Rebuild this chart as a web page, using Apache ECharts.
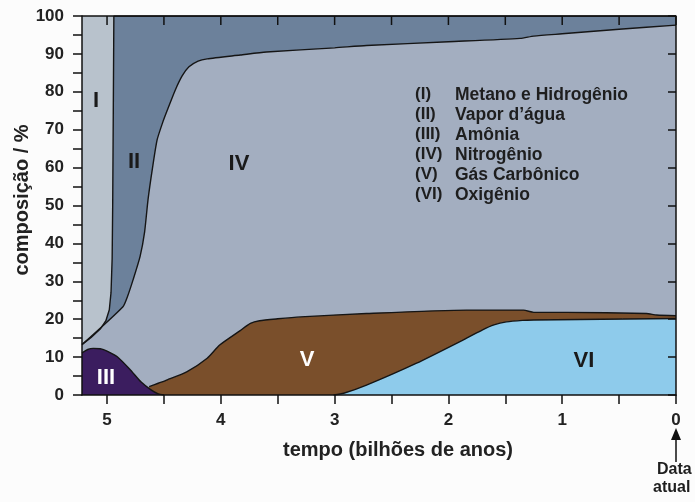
<!DOCTYPE html>
<html>
<head>
<meta charset="utf-8">
<script src="https://cdn.jsdelivr.net/npm/echarts@6/dist/echarts.min.js"></script>
<style>
  html, body { margin: 0; padding: 0; background: #fcfcfc; }
  #main { width: 695px; height: 502px; }
</style>
</head>
<body>
<div id="main"></div>
<script>
// topo (valor acumulado) de cada camada, [tempo, %]
var topoI = [[5.22, 100], [0, 100]];
var topoII = [[5.22, 13.3], [5.14, 15.2], [5.06, 17.4], [5.01, 19.6], [4.98, 22.5], [4.965, 27], [4.955, 36], [4.95, 51], [4.945, 75], [4.94, 100], [0, 100]];
var topoIV = [[5.22, 13.3], [4.86, 23.3], [4.82, 26], [4.77, 30.5], [4.71, 36.5], [4.67, 43], [4.64, 51.5], [4.60, 60], [4.56, 67.3], [4.51, 72], [4.47, 75.2],
  [4.40, 80.5], [4.34, 84.2], [4.28, 86.6], [4.20, 88.1], [4.12, 88.7], [3.83, 89.7], [3.6, 90.5], [3.0, 91.6], [2.72, 92.2], [2.0, 93.2],
  [1.37, 94.1], [1.25, 94.7], [1.0, 95.3], [0.5, 96.5], [0, 97.6]];
var topoV = [[4.63, 2.2], [4.55, 3.1], [4.47, 4.0], [4.30, 6.1], [4.12, 9.7], [4.01, 13.2], [3.83, 17], [3.74, 18.9], [3.66, 19.6],
  [3.50, 20.1], [3.30, 20.6], [2.72, 21.5], [1.84, 22.4], [1.34, 22.4], [1.25, 21.8], [0.96, 21.8], [0.26, 21.5], [0.17, 21.1], [0, 20.9]];
var topoVI = [[3.01, 0], [2.92, 0.45], [2.72, 2.6], [2.28, 8.4], [1.84, 15.0], [1.70, 17.2], [1.60, 18.5], [1.49, 19.3], [1.35, 19.7], [1.25, 19.8], [0, 20.2]];
var topoIII = [[5.22, 11.1], [5.17, 12.0], [5.12, 12.3], [5.06, 12.2], [5.00, 11.6], [4.91, 10.1], [4.80, 6.8], [4.70, 3.4], [4.62, 1.5], [4.55, 0.3], [4.5, 0]];

var ticksX = [0, 0.5, 1, 1.5, 2, 2.5, 3, 3.5, 4, 4.5, 5];
var labelsX = [0, 1, 2, 3, 4, 5];

var legenda = [
  ['(I)', 'Metano e Hidrogênio'],
  ['(II)', 'Vapor d\u2019água'],
  ['(III)', 'Amônia'],
  ['(IV)', 'Nitrogênio'],
  ['(V)', 'Gás Carbônico'],
  ['(VI)', 'Oxigênio']
];

var fonte = '"Liberation Sans", Arial, sans-serif';
var myChart = echarts.init(document.getElementById('main'));

// area do grafico
var gLeft = 82, gRight = 19, gTop = 16, gBottom = 107, xMax = 5.22;

function camada(nome, dados, cor, linha, suave) {
  return {
    name: nome,
    type: 'line',
    data: dados,
    showSymbol: false,
    smooth: suave,
    lineStyle: { color: '#151515', width: linha ? 1.4 : 0 },
    areaStyle: { color: cor, opacity: 1 },
    silent: true
  };
}

var eixoX = {
  type: 'value',
  position: 'bottom',
  inverse: true,
  min: 0,
  max: xMax,
  z: 10,
  axisLine: { show: true, onZero: false, lineStyle: { color: '#111', width: 1.5 } },
  axisTick: { show: true, length: 9, customValues: ticksX, lineStyle: { color: '#111', width: 1.5 } },
  axisLabel: {
    customValues: labelsX, margin: 17,
    fontFamily: fonte, fontWeight: 'bold', fontSize: 17, color: '#222'
  },
  splitLine: { show: false }
};

function eixoY(pos) {
  var esq = pos === 'left';
  return {
    type: 'value',
    position: pos,
    min: 0,
    max: 100,
    interval: 10,
    z: 10,
    axisLine: { show: true, onZero: false, lineStyle: { color: '#111', width: 1.5 } },
    axisTick: { show: true, inside: !esq, length: esq ? 9 : 8, lineStyle: { color: '#111', width: 1.5 } },
    minorTick: { show: esq, splitNumber: 2, length: 9, lineStyle: { color: '#111', width: 1.5 } },
    axisLabel: { show: esq, margin: 18, fontFamily: fonte, fontWeight: 'bold', fontSize: 17, color: '#222' },
    splitLine: { show: false }
  };
}

var textos = [];
legenda.forEach(function (l, i) {
  textos.push({ type: 'text', z: 100, left: 415, top: 86 + i * 20, style: { text: l[0], font: 'bold 17px ' + fonte, fill: '#1e1e1e' } });
  textos.push({ type: 'text', z: 100, left: 455, top: 86 + i * 20, style: { text: l[1], font: 'bold 17.5px ' + fonte, fill: '#1e1e1e' } });
});
var romanos = [['I', 96, 101, '#1a1a1a'], ['II', 134, 162, '#1a1a1a'], ['IV', 239, 164, '#1a1a1a'],
  ['III', 106, 378, '#ffffff'], ['V', 307, 360, '#ffffff'], ['VI', 584, 361, '#1a1a1a']];
romanos.forEach(function (r) {
  textos.push({
    type: 'text', z: 100, x: r[1], y: r[2],
    style: { text: r[0], font: 'bold 22px ' + fonte, fill: r[3], align: 'center', verticalAlign: 'middle' }
  });
});
// nomes dos eixos
textos.push({ type: 'text', z: 100, x: 398, y: 450,
  style: { text: 'tempo (bilhões de anos)', font: 'bold 20px ' + fonte, fill: '#222', align: 'center', verticalAlign: 'middle' } });
textos.push({ type: 'text', z: 100, x: 22, y: 200, rotation: Math.PI / 2,
  style: { text: 'composição / %', font: 'bold 20px ' + fonte, fill: '#222', align: 'center', verticalAlign: 'middle' } });
// seta "Data atual"
textos.push({ type: 'line', z: 100, shape: { x1: 676, y1: 462, x2: 676, y2: 436 }, style: { stroke: '#111', lineWidth: 1.5 } });
textos.push({ type: 'polygon', z: 100, shape: { points: [[676, 428], [671, 440], [681, 440]] }, style: { fill: '#111' } });
textos.push({ type: 'text', z: 100, left: 657, top: 462, style: { text: 'Data', font: 'bold 16px ' + fonte, fill: '#1e1e1e' } });
textos.push({ type: 'text', z: 100, left: 653, top: 480, style: { text: 'atual', font: 'bold 16px ' + fonte, fill: '#1e1e1e' } });

// moldura de cima com marcas para dentro (mesmas posicoes do eixo x)
var largura = 695 - gLeft - gRight;
var xDireita = gLeft + largura;
textos.push({ type: 'line', z: 100, shape: { x1: gLeft, y1: gTop, x2: xDireita, y2: gTop }, style: { stroke: '#111', lineWidth: 1.5 } });
ticksX.forEach(function (v) {
  var px = xDireita - v / xMax * largura;
  textos.push({ type: 'line', z: 100, shape: { x1: px, y1: gTop, x2: px, y2: gTop + 9 }, style: { stroke: '#111', lineWidth: 1.5 } });
});

var option = {
  backgroundColor: '#fcfcfc',
  animation: false,
  grid: { left: gLeft, right: gRight, top: gTop, bottom: gBottom },
  xAxis: eixoX,
  yAxis: [eixoY('left'), eixoY('right')],
  series: [
    camada('Metano e Hidrogênio', topoI, '#b8c2cc', false, false),
    camada('Vapor d\u2019água', topoII, '#6c819b', true, false),
    camada('Nitrogênio', topoIV, '#a3aec0', true, 0.2),
    camada('Gás Carbônico', topoV, '#7a4f2b', true, 0.2),
    camada('Oxigênio', topoVI, '#8ecbeb', true, 0.2),
    camada('Amônia', topoIII, '#3b1d5f', true, 0.2),
    // série vazia só para ativar o eixo da direita
    { type: 'line', yAxisIndex: 1, data: [], silent: true }
  ],
  graphic: textos
};

myChart.setOption(option, true);
</script>
</body>
</html>
